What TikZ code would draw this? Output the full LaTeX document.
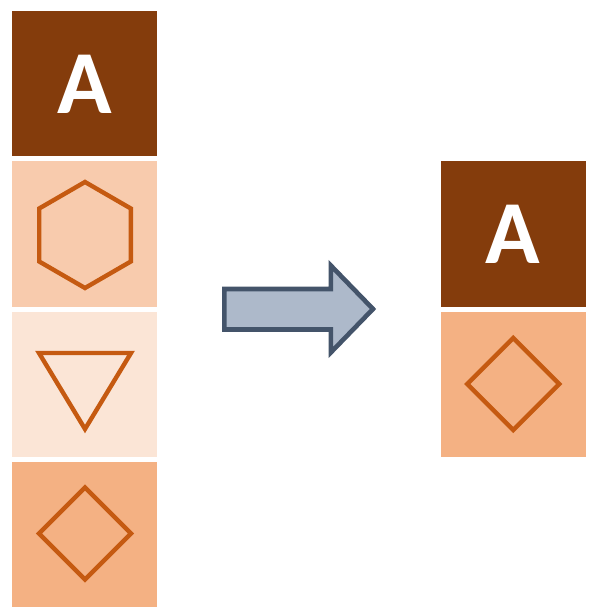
\documentclass[tikz,border=0pt]{standalone}
\usepackage{fontspec}
\setmainfont{Carlito}
\definecolor{darkbrown}{HTML}{843C0C}
\definecolor{peach}{HTML}{F8CBAD}
\definecolor{lightpeach}{HTML}{FBE5D6}
\definecolor{midpeach}{HTML}{F4B183}
\definecolor{shapeorange}{HTML}{C55A11}
\definecolor{arrowfill}{HTML}{ADB9CA}
\definecolor{arrowline}{HTML}{44546A}
\tikzset{
  tile/.style={minimum width=145pt, minimum height=145pt, inner sep=0pt, draw=none},
  glyph/.style={draw=shapeorange, line width=4.4pt, line join=miter},
  letter/.style={text=white, font=\bfseries\fontsize{90}{90}\selectfont, inner sep=0pt}
}
\begin{document}
\begin{tikzpicture}[x=1pt,y=-1pt]
\useasboundingbox (0,0) rectangle (597,612);
% left column
\node[tile, fill=darkbrown] (l1) at (84.75,84) {};
\node[tile, fill=peach] (l2) at (84.75,234) {};
\node[tile, fill=lightpeach] (l3) at (84.75,384) {};
\node[tile, fill=midpeach] (l4) at (84.75,534) {};
\node[letter] (la) at (l1.center) {A};
% hexagon
\draw[glyph] (85,182) -- (130.8,208.5) -- (130.8,261.5) -- (85,288) -- (39.2,261.5) -- (39.2,208.5) -- cycle;
% triangle
\draw[glyph] (39,353) -- (131,353) -- (85,429) -- cycle;
% diamond
\draw[glyph] (85,487.5) -- (131,533.5) -- (85,579.5) -- (39,533.5) -- cycle;
% right column
\node[tile, fill=darkbrown] (r1) at (513.25,234) {};
\node[tile, fill=midpeach] (r2) at (513.25,384) {};
\node[letter] (ra) at (r1.center) {A};
\draw[glyph] (513.25,338) -- (559.25,384) -- (513.25,430) -- (467.25,384) -- cycle;
% arrow
\draw[draw=arrowline, fill=arrowfill, line width=4.6pt, line join=miter]
  (224.3,289) -- (330.8,289) -- (330.8,265.5) -- (373,309) -- (330.8,352.5) -- (330.8,329.5) -- (224.3,329.5) -- cycle;
\end{tikzpicture}
\end{document}
